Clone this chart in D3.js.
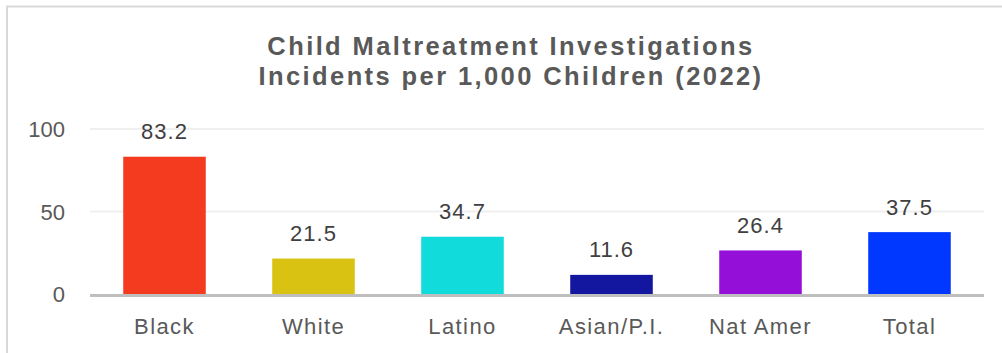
<!DOCTYPE html>
<html><head><meta charset="utf-8">
<script src="https://cdn.jsdelivr.net/npm/d3@7"></script>
<style>
html,body{margin:0;padding:0;background:#fff;}
svg{display:block;}
</style></head>
<body>
<svg id="chart" width="1002" height="353"></svg>
<script>
const categories = ["Black", "White", "Latino", "Asian/P.I.", "Nat Amer", "Total"];
const values = [83.2, 21.5, 34.7, 11.6, 26.4, 37.5];
const colors = ["#F43B20", "#D9C211", "#12DBDB", "#13179F", "#9410D9", "#0038FF"];
const yTicks = [0, 50, 100];
const titleLines = ["Child Maltreatment Investigations", "Incidents per 1,000 Children (2022)"];

const svg = d3.select("#chart");
const font = "'Liberation Sans', Arial, sans-serif";

// outer border (only top and left visible)
svg.append("rect").attr("x", 7).attr("y", 6.5).attr("width", 1100).attr("height", 400)
  .attr("fill", "none").attr("stroke", "#d9d9d9").attr("stroke-width", 2);

const m = {left: 90, right: 984, top: 129, bottom: 294};
const x = d3.scaleBand().domain(categories).range([m.left, m.right]).paddingInner(0.446).paddingOuter(0.223);
const y = d3.scaleLinear().domain([0, 100]).range([m.bottom, m.top]);

// title
const title = svg.append("text").attr("text-anchor", "middle")
  .attr("font-family", font).attr("font-weight", "bold").attr("font-size", 25.5)
  .attr("letter-spacing", "2.4px").attr("fill", "#595959");
titleLines.forEach((t, i) => {
  title.append("tspan").attr("x", 511).attr("y", 54.5 + i * 30).text(t);
});

// gridlines
svg.append("g").selectAll("line").data(yTicks.filter(d => d > 0)).join("line")
  .attr("x1", m.left).attr("x2", m.right)
  .attr("y1", d => y(d)).attr("y2", d => y(d))
  .attr("stroke", "#efefef").attr("stroke-width", 2);

// y axis
const yAxis = svg.append("g").attr("transform", `translate(${m.left},0)`)
  .call(d3.axisLeft(y).tickValues(yTicks).tickSize(0).tickPadding(25));
yAxis.select(".domain").remove();
yAxis.selectAll("text").attr("font-family", font).attr("font-size", 22)
  .attr("fill", "#595959").attr("dy", "0.36em");

// bars
svg.append("g").selectAll("rect").data(categories).join("rect")
  .attr("x", d => x(d)).attr("width", x.bandwidth())
  .attr("y", (d, i) => y(values[i])).attr("height", (d, i) => y(0) - y(values[i]))
  .attr("fill", (d, i) => colors[i]);

// value labels
svg.append("g").selectAll("text").data(categories).join("text")
  .attr("x", d => x(d) + x.bandwidth() / 2)
  .attr("y", (d, i) => y(values[i]) - 17.5)
  .attr("text-anchor", "middle").attr("font-family", font).attr("font-size", 22)
  .attr("letter-spacing", "1px").attr("fill", "#404040")
  .text((d, i) => values[i].toFixed(1));

// x axis
const xAxis = svg.append("g").attr("transform", `translate(0,${m.bottom})`)
  .call(d3.axisBottom(x).tickSize(0).tickPadding(0));
xAxis.select(".domain").remove();
xAxis.selectAll("text").attr("font-family", font).attr("font-size", 22)
  .attr("letter-spacing", "1.4px").attr("fill", "#595959").attr("dy", null).attr("y", 40);

// baseline
svg.append("line").attr("x1", m.left).attr("x2", m.right)
  .attr("y1", y(0) + 1.5).attr("y2", y(0) + 1.5)
  .attr("stroke", "#bfbfbf").attr("stroke-width", 3);
</script>
</body></html>
